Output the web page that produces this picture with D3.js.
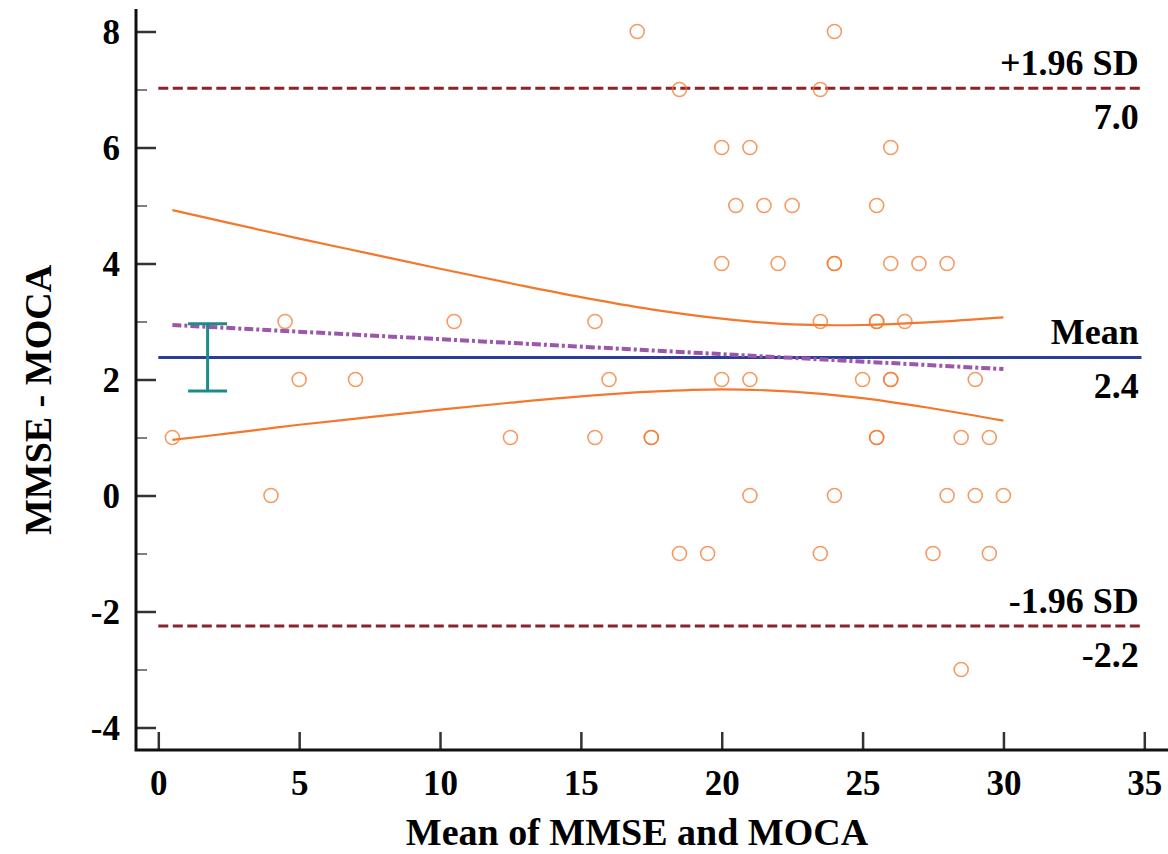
<!DOCTYPE html>
<html>
<head>
<meta charset="utf-8">
<script src="https://cdn.jsdelivr.net/npm/d3@7"></script>
<style>
	body { margin: 0; background: #fff; }
	text { font-family: "Liberation Serif", "Times New Roman", serif; font-weight: bold; fill: #000; }
</style>
</head>
<body>
<div id="root"></div>
<script>

// mean of the two scores (x) and MMSE - MOCA difference (y)
const meanVals = [
	17, 24,
	18.5, 23.5,
	20, 21, 26,
	20.5, 21.5, 22.5, 25.5,
	20, 22, 24, 24, 26, 27, 28,
	4.5, 10.5, 15.5, 23.5, 25.5, 25.5, 26.5,
	5, 7, 16, 20, 21, 25, 26, 26, 29,
	0.5, 12.5, 15.5, 17.5, 17.5, 25.5, 25.5, 28.5, 29.5,
	4, 21, 24, 28, 29, 30,
	18.5, 19.5, 23.5, 27.5, 29.5,
	28.5
];
const diffVals = [
	8, 8,
	7, 7,
	6, 6, 6,
	5, 5, 5, 5,
	4, 4, 4, 4, 4, 4, 4,
	3, 3, 3, 3, 3, 3, 3,
	2, 2, 2, 2, 2, 2, 2, 2, 2,
	1, 1, 1, 1, 1, 1, 1, 1, 1,
	0, 0, 0, 0, 0, 0,
	-1, -1, -1, -1, -1,
	-3
];

// bias and limits of agreement
const meanDiff = 2.38;
const upperLoA = 7.02;
const lowerLoA = -2.25;
const limitValues = [upperLoA, meanDiff, lowerLoA];
const limitNames = ["+1.96 SD", "Mean", "-1.96 SD"];
const limitLabels = ["7.0", "2.4", "-2.2"];

// 95% CI of the mean difference, drawn at x = 1.75
const ciX = 1.75;
const ciLow = 1.80;
const ciHigh = 2.96;

// regression line of differences on means
const regX = [0.5, 30];
const regY = [2.94, 2.18];

// confidence band of regression
const bandX = [0.5, 2.5, 5, 7.5, 10, 12.5, 15, 17.5, 20, 22.5, 25, 27.5, 30];
const bandUpper = [4.92, 4.70, 4.43, 4.17, 3.91, 3.66, 3.42, 3.21, 3.05, 2.95, 2.94, 2.99, 3.07];
const bandLower = [0.96, 1.07, 1.22, 1.35, 1.48, 1.60, 1.71, 1.79, 1.83, 1.79, 1.68, 1.50, 1.29];

const xTicks = [0, 5, 10, 15, 20, 25, 30, 35];
const yTicksMajor = [-4, -2, 0, 2, 4, 6, 8];
const yTicksMinor = [-3, -1, 1, 3, 5, 7];

function drawChart() {
	const width = 1168;
	const height = 854;
	const frame = {left: 136, top: 9, bottom: 750, right: 1168};

	const svg = d3.select("#root")
		.append("svg")
		.attr("width", width)
		.attr("height", height);

	const x = d3.scaleLinear().domain([0, 35]).range([158.3, 1144.3]);
	const y = d3.scaleLinear().domain([-4, 8]).range([727.5, 31.5]);

	// plain hyphen for negatives, like the original
	const plain = d => String(d);

	// axes
	const yMinor = svg.append("g")
		.attr("transform", `translate(${frame.left},0)`)
		.call(d3.axisLeft(y).tickValues(yTicksMinor).tickSize(-11).tickFormat(""));
	yMinor.select(".domain").remove();
	yMinor.selectAll("line").attr("stroke", "#555").attr("stroke-width", 1.5);

	const yAxis = svg.append("g")
		.attr("transform", `translate(${frame.left},0)`)
		.call(d3.axisLeft(y).tickValues(yTicksMajor).tickFormat(plain).tickSize(-20).tickPadding(16));
	yAxis.select(".domain").remove();
	yAxis.selectAll("line").attr("stroke", "#333").attr("stroke-width", 2.5);
	yAxis.selectAll("text")
		.attr("dy", "0.33em")
		.style("font-size", "35px")
		.style("font-family", "'Liberation Serif', serif")
		.style("font-weight", "bold")
		.attr("fill", "#000");

	const xAxis = svg.append("g")
		.attr("transform", `translate(0,${frame.bottom})`)
		.call(d3.axisBottom(x).tickValues(xTicks).tickFormat(plain).tickSize(-18).tickPadding(20));
	xAxis.select(".domain").remove();
	xAxis.selectAll("line").attr("stroke", "#333").attr("stroke-width", 2.5);
	xAxis.selectAll("text")
		.style("font-size", "35px")
		.style("font-family", "'Liberation Serif', serif")
		.style("font-weight", "bold")
		.attr("fill", "#000");

	// axis lines
	svg.append("path")
		.attr("d", `M${frame.left},${frame.top}V${frame.bottom}H${frame.right}`)
		.attr("fill", "none")
		.attr("stroke", "#111")
		.attr("stroke-width", 3);

	// axis titles
	svg.append("text")
		.attr("x", 637)
		.attr("y", 845)
		.attr("text-anchor", "middle")
		.style("font-size", "38px")
		.text("Mean of MMSE and MOCA");

	svg.append("text")
		.attr("transform", "translate(51,400) rotate(-90)")
		.attr("text-anchor", "middle")
		.style("font-size", "38px")
		.text("MMSE - MOCA");

	// limits of agreement and mean line
	const limitStyles = [
		{color: "#8e2226", dash: "10,4.5", width: 3},
		{color: "#2b3d9a", dash: null, width: 3},
		{color: "#8e2226", dash: "10,4.5", width: 3}
	];
	limitValues.forEach((v, i) => {
		svg.append("line")
			.attr("x1", x(0))
			.attr("x2", x(34.9))
			.attr("y1", y(v))
			.attr("y2", y(v))
			.attr("stroke", limitStyles[i].color)
			.attr("stroke-width", limitStyles[i].width)
			.attr("stroke-dasharray", limitStyles[i].dash);

		svg.append("text")
			.attr("x", x(34.8))
			.attr("y", y(v) - 13)
			.attr("text-anchor", "end")
			.style("font-size", "36px")
			.text(limitNames[i]);

		svg.append("text")
			.attr("x", x(34.8))
			.attr("y", y(v) + 41)
			.attr("text-anchor", "end")
			.style("font-size", "36px")
			.text(limitLabels[i]);
	});

	// regression confidence band
	const bandLine = d3.line()
		.x(d => x(d[0]))
		.y(d => y(d[1]))
		.curve(d3.curveCatmullRom);

	[bandUpper, bandLower].forEach(vals => {
		svg.append("path")
			.datum(bandX.map((bx, i) => [bx, vals[i]]))
			.attr("d", bandLine)
			.attr("fill", "none")
			.attr("stroke", "#f4782c")
			.attr("stroke-width", 2.2);
	});

	// regression line
	svg.append("path")
		.datum(regX.map((rx, i) => [rx, regY[i]]))
		.attr("d", d3.line().x(d => x(d[0])).y(d => y(d[1])))
		.attr("fill", "none")
		.attr("stroke", "#9b57a9")
		.attr("stroke-width", 4)
		.attr("stroke-dasharray", "9,3,3,3");

	// CI of the mean difference
	const ci = svg.append("g")
		.attr("stroke", "#1d8b89")
		.attr("stroke-width", 3);
	ci.append("line")
		.attr("x1", x(ciX)).attr("x2", x(ciX))
		.attr("y1", y(ciLow)).attr("y2", y(ciHigh));
	[ciLow, ciHigh].forEach(v => {
		ci.append("line")
			.attr("x1", x(ciX) - 19.5).attr("x2", x(ciX) + 19.5)
			.attr("y1", y(v)).attr("y2", y(v));
	});

	// points
	svg.append("g")
		.selectAll("circle")
		.data(meanVals.map((m, i) => [m, diffVals[i]]))
		.enter()
		.append("circle")
		.attr("cx", d => x(d[0]))
		.attr("cy", d => y(d[1]))
		.attr("r", 7)
		.attr("fill", "none")
		.attr("stroke", "#f4782c")
		.attr("stroke-opacity", 0.75)
		.attr("stroke-width", 1.6);
}

drawChart();
</script>
</body>
</html>
